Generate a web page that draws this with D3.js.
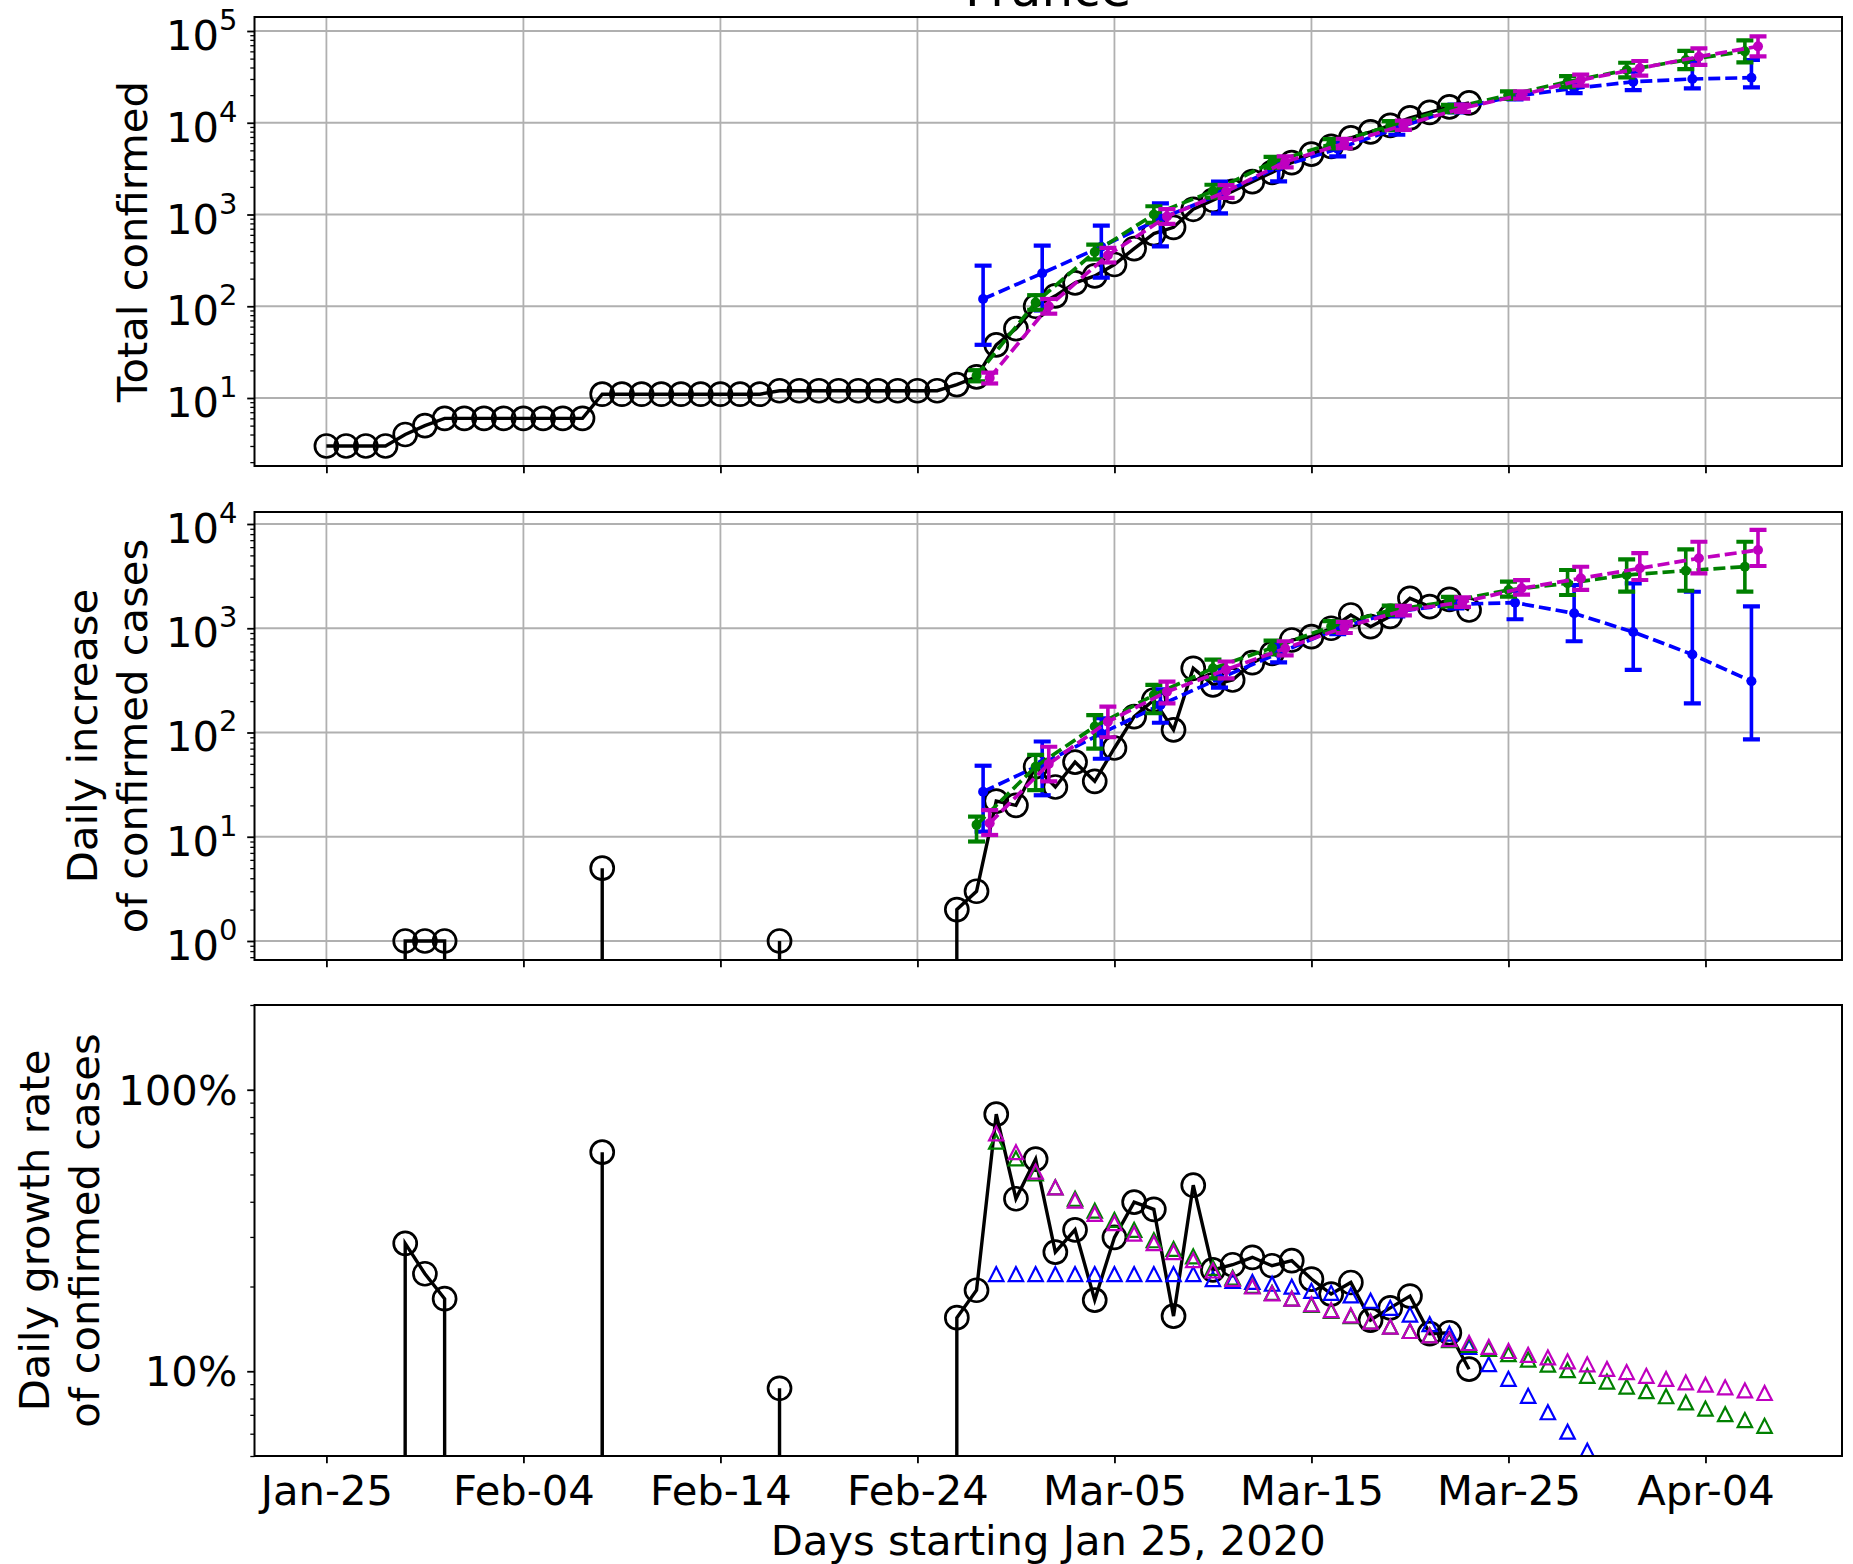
<!DOCTYPE html>
<html>
<head>
<meta charset="utf-8">
<script src="https://cdn.jsdelivr.net/npm/d3@7"></script>
<style>
  body { margin: 0; background: #fff; }
  text { font-family: "DejaVu Sans", sans-serif; fill: #000; }
</style>
</head>
<body>
<script>
// ---- data (day 0 = Jan 25, 2020) ----
const dayTicks = [0, 10, 20, 30, 40, 50, 60, 70];
const dayLabels = ["Jan-25", "Feb-04", "Feb-14", "Feb-24", "Mar-05", "Mar-15", "Mar-25", "Apr-04"];

// observed, one value per day from day 0
const obsTotal = [3, 3, 3, 3, 4, 5, 6, 6, 6, 6, 6, 6, 6, 6,
  11, 11, 11, 11, 11, 11, 11, 11, 11, 12, 12, 12, 12, 12, 12, 12, 12, 12,
  14, 17, 38, 57, 100, 130, 180, 214, 285, 425, 620, 725, 1140, 1430, 1790,
  2280, 2880, 3680, 4550, 5530, 6850, 7950, 9370, 11300, 12960, 14870, 16440];
const obsDaily = [null, 0, 0, 0, 1, 1, 1, 0, 0, 0, 0, 0, 0, 0,
  5, 0, 0, 0, 0, 0, 0, 0, 0, 1, 0, 0, 0, 0, 0, 0, 0, 0,
  2, 3, 22, 20, 47, 30, 52, 34, 71, 142, 205, 106, 413, 286, 319,
  467, 575, 771, 830, 1000, 1340, 1035, 1300, 1937, 1610, 1893, 1496];
const obsGrowth = [null, 0, 0, 0, 0.2845, 0.222, 0.181, 0, 0, 0, 0, 0, 0, 0,
  0.60, 0, 0, 0, 0, 0, 0, 0, 0, 0.087, 0, 0, 0, 0, 0, 0, 0, 0,
  0.155, 0.194, 0.819, 0.41, 0.567, 0.265, 0.318, 0.179, 0.299, 0.399, 0.376, 0.157, 0.458, 0.229, 0.239,
  0.254, 0.237, 0.247, 0.2126, 0.188, 0.2067, 0.152, 0.168, 0.185, 0.136, 0.137, 0.1017];

// model fits with error bars, every third day
const projDays = [33, 36, 39, 42, 45, 48, 51, 54, 57, 60, 63, 66, 69, 72];

const blueTot   = [120, 229, 446, 900, 1650, 3300, 5200, 8700, 14300, 19500, 23700, 28000, 30000, 31000];
const blueTotLo = [38, 90, 205, 450, 1030, 2300, 4300, 7400, 13000, 18000, 21000, 22700, 23700, 24300];
const blueTotHi = [277, 457, 755, 1320, 2280, 4200, 6400, 10200, 15800, 21500, 27500, 36000, 46000, 48300];
const greenTot   = [17.5, 110, 390, 1000, 1800, 3700, 5900, 9300, 14300, 20000, 28000, 37500, 48300, 60000];
const greenTotLo = [15.2, 91.5, 324, 813, 1530, 3220, 5260, 8290, 13040, 18240, 24390, 31190, 38370, 45510];
const greenTotHi = [20.1, 132, 469, 1230, 2110, 4250, 6620, 10430, 15680, 21930, 32150, 45080, 60810, 79100];
const magTot   = [16.5, 100, 360, 950, 1780, 3750, 5950, 9400, 14400, 20100, 29200, 39200, 52500, 68000];
const magTotLo = [14.4, 83, 300, 790, 1515, 3266, 5303, 8378, 13133, 18331, 25432, 32606, 42680, 52800];
const magTotHi = [18.9, 120, 433, 1142, 2091, 4306, 6676, 10547, 15790, 22040, 33527, 47128, 64590, 87600];

const blueDaily   = [27, 50, 98, 184, 330, 575, 1000, 1450, 1700, 1760, 1390, 920, 560, 310];
const blueDailyLo = [11.2, 25, 56, 124, 270, 470, 880, 1300, 1550, 1220, 750, 398, 190, 86];
const blueDailyHi = [48, 82, 137, 260, 420, 700, 1130, 1600, 1900, 2300, 2600, 2700, 2240, 1620];
const greenDaily   = [13, 47, 114, 229, 413, 650, 1040, 1490, 1800, 2330, 2700, 3245, 3565, 3895];
const greenDailyLo = [9.0, 28, 70, 153, 330, 560, 920, 1340, 1620, 2010, 2085, 2244, 2290, 2244];
const greenDailyHi = [15.6, 61, 147, 286, 500, 760, 1170, 1650, 2000, 2800, 3620, 4575, 5720, 6760];
const magDaily   = [13.5, 50, 127, 246, 400, 640, 1020, 1480, 1780, 2417, 3010, 3760, 4690, 5630];
const magDailyLo = [10.4, 34, 90, 190, 330, 550, 900, 1330, 1600, 2100, 2330, 2903, 3365, 3955];
const magDailyHi = [18, 73, 177, 307, 480, 750, 1150, 1640, 1980, 2900, 3890, 5250, 6760, 8770];

// model growth rates, daily from day 34
const rateStart = 34;
const blueRate = [0.2214, 0.2214, 0.2214, 0.2214, 0.2214, 0.2214, 0.2214, 0.2214, 0.2214, 0.2214, 0.2214,
  0.2126, 0.2096, 0.2076, 0.2046, 0.1997, 0.193, 0.19, 0.186, 0.178, 0.168,
  0.159, 0.147, 0.136, 0.122, 0.106, 0.094, 0.0818, 0.0715, 0.061, 0.0522];
const greenRate = [0.654, 0.57, 0.504, 0.45, 0.41, 0.372, 0.345, 0.318, 0.292, 0.272, 0.256,
  0.233, 0.215, 0.201, 0.19, 0.181, 0.172, 0.164, 0.157, 0.15, 0.144, 0.139, 0.134, 0.129, 0.124,
  0.12, 0.115, 0.11, 0.1055, 0.101, 0.0963, 0.0919, 0.0882, 0.085, 0.0815, 0.0775, 0.0737, 0.0704, 0.0671, 0.064];
const magRate = [0.70, 0.60, 0.512, 0.45, 0.404, 0.362, 0.336, 0.308, 0.285, 0.265, 0.248,
  0.228, 0.213, 0.2, 0.189, 0.181, 0.173, 0.165, 0.158, 0.15, 0.144, 0.139, 0.134, 0.13, 0.126,
  0.122, 0.118, 0.1144, 0.112, 0.1085, 0.1058, 0.1019, 0.0993, 0.0963, 0.0939, 0.0913, 0.0896, 0.0877, 0.0855, 0.0837];

// ---- layout ----
const W = 1853, H = 1564;
const frameL = 254.5, frameR = 1842;
const panelTops = [17, 512, 1005], panelBottoms = [466, 960, 1456];
const width = frameR - frameL;
const fs = 41.7;
const colors = {blue: "#0000ff", green: "#008000", mag: "#bf00bf"};

const svg = d3.select("body").append("svg")
    .attr("width", W)
    .attr("height", H);

svg.append("rect").attr("width", W).attr("height", H).attr("fill", "#fff");

const x = d3.scaleLinear().domain([-3.65, 76.93]).range([0, width]);

const y1 = d3.scaleLog().domain([Math.pow(10, 0.2589), Math.pow(10, 5.1526)]).range([panelBottoms[0] - panelTops[0], 0]);
const y2 = d3.scaleLog().domain([Math.pow(10, -0.1823), Math.pow(10, 4.1151)]).range([panelBottoms[1] - panelTops[1], 0]);
const y3 = d3.scaleLog().domain([0.05, 2.0]).range([panelBottoms[2] - panelTops[2], 0]);

function minorTicks(y) {
    const [lo, hi] = y.domain();
    const out = [];
    for (let e = -3; e <= 6; e++) {
        for (let m = 2; m <= 9; m++) {
            const v = m * Math.pow(10, e);
            if (v >= lo * 0.9999 && v <= hi * 1.0001) out.push(v);
        }
    }
    return out;
}

function makePanel(idx, y, major, opts) {
    const top = panelTops[idx], h = panelBottoms[idx] - top;
    const g = svg.append("g").attr("transform", "translate(" + frameL + "," + top + ")");

    svg.append("clipPath").attr("id", "clip" + idx)
        .append("rect").attr("width", width).attr("height", h);

    if (opts.grid) {
        const grid = g.append("g").attr("stroke", "#b0b0b0").attr("stroke-width", 1.8);
        grid.selectAll(".gx").data(dayTicks).join("line")
            .attr("x1", d => x(d)).attr("x2", d => x(d))
            .attr("y1", 0).attr("y2", h);
        grid.selectAll(".gy").data(major).join("line")
            .attr("x1", 0).attr("x2", width)
            .attr("y1", d => y(d)).attr("y2", d => y(d));
    }

    const data = g.append("g").attr("clip-path", "url(#clip" + idx + ")");

    // axes drawn later on top
    const axes = () => {
        const gx = g.append("g").attr("transform", "translate(0," + h + ")")
            .call(d3.axisBottom(x).tickValues(dayTicks).tickSizeInner(7.3).tickSizeOuter(0)
                .tickFormat(opts.xLabels ? (d, i) => dayLabels[i] : ""));
        gx.select(".domain").remove();
        gx.selectAll("line").attr("stroke", "#000").attr("stroke-width", 1.8);
        gx.selectAll("text").attr("y", 49).attr("dy", 0)
            .attr("font-size", fs).attr("font-family", "DejaVu Sans").attr("fill", "#000");

        const gy = g.append("g")
            .call(d3.axisLeft(y).tickValues(major).tickSizeInner(7.3).tickSizeOuter(0).tickFormat(""));
        gy.select(".domain").remove();
        gy.selectAll("line").attr("stroke", "#000").attr("stroke-width", 1.8);

        const gm = g.append("g")
            .call(d3.axisLeft(y).tickValues(minorTicks(y)).tickSizeInner(4.2).tickSizeOuter(0).tickFormat(""));
        gm.select(".domain").remove();
        gm.selectAll("line").attr("stroke", "#000").attr("stroke-width", 1.3);

        // tick labels
        const lab = g.append("g").selectAll("text").data(major).join("text")
            .attr("text-anchor", "end")
            .attr("font-size", fs);
        if (opts.percent) {
            lab.attr("x", -17).attr("y", d => y(d) + 15)
                .text(d => Math.round(d * 100) + "%");
        } else {
            lab.attr("x", -17).attr("y", d => y(d) + 19)
                .each(function (d) {
                    const t = d3.select(this);
                    t.append("tspan").text("10");
                    t.append("tspan").attr("dy", -20).attr("font-size", 29)
                        .text(Math.round(Math.log10(d)));
                });
        }

        g.append("rect").attr("width", width).attr("height", h)
            .attr("fill", "none").attr("stroke", "#000").attr("stroke-width", 2);
    };

    return {g: g, data: data, h: h, axes: axes};
}

// observed series: line + open circles, zero values drop off the bottom
function drawObserved(p, y, values) {
    const pts = values.map((v, i) => ({day: i, v: v}));
    const line = d3.line()
        .defined(d => d.v != null)
        .x(d => x(d.day))
        .y(d => d.v > 0 ? y(d.v) : p.h + 1e5);
    p.data.append("path").datum(pts)
        .attr("d", line)
        .attr("fill", "none").attr("stroke", "#000").attr("stroke-width", 3.4)
        .attr("stroke-linejoin", "miter");
    p.data.append("g").selectAll("circle").data(pts.filter(d => d.v > 0)).join("circle")
        .attr("cx", d => x(d.day)).attr("cy", d => y(d.v)).attr("r", 11.5)
        .attr("fill", "none").attr("stroke", "#000").attr("stroke-width", 2.7);
}

function drawProjection(p, y, vals, lo, hi, color, off) {
    const pts = projDays.map((d, i) => ({x: x(d + off), v: vals[i], lo: lo[i], hi: hi[i]}));
    const s = p.data.append("g");
    s.append("path").datum(pts)
        .attr("d", d3.line().x(d => d.x).y(d => y(d.v)))
        .attr("fill", "none").attr("stroke", color).attr("stroke-width", 3.7)
        .attr("stroke-dasharray", "12,5");
    s.selectAll(".eb").data(pts).join("line")
        .attr("x1", d => d.x).attr("x2", d => d.x)
        .attr("y1", d => y(d.lo)).attr("y2", d => y(d.hi))
        .attr("stroke", color).attr("stroke-width", 3.6);
    ["lo", "hi"].forEach(k => {
        s.selectAll(".cap" + k).data(pts).join("line")
            .attr("x1", d => d.x - 8.5).attr("x2", d => d.x + 8.5)
            .attr("y1", d => y(d[k])).attr("y2", d => y(d[k]))
            .attr("stroke", color).attr("stroke-width", 4.2);
    });
    s.selectAll("circle").data(pts).join("circle")
        .attr("cx", d => d.x).attr("cy", d => y(d.v)).attr("r", 5)
        .attr("fill", color);
}

function drawRate(p, y, vals, color) {
    p.data.append("g").selectAll("path").data(vals).join("path")
        .attr("transform", (d, i) => "translate(" + x(rateStart + i) + "," + y(d) + ")")
        .attr("d", "M0,-7L-7.2,7L7.2,7Z")
        .attr("fill", "none").attr("stroke", color).attr("stroke-width", 2.2);
}

// ---- panel 1: total confirmed ----
const p1 = makePanel(0, y1, [10, 100, 1000, 10000, 100000], {grid: true, xLabels: false});
drawObserved(p1, y1, obsTotal);
drawProjection(p1, y1, blueTot, blueTotLo, blueTotHi, colors.blue, 1 / 3);
drawProjection(p1, y1, greenTot, greenTotLo, greenTotHi, colors.green, 0);
drawProjection(p1, y1, magTot, magTotLo, magTotHi, colors.mag, 2 / 3);
p1.axes();

// ---- panel 2: daily increase ----
const p2 = makePanel(1, y2, [1, 10, 100, 1000, 10000], {grid: true, xLabels: false});
drawObserved(p2, y2, obsDaily);
drawProjection(p2, y2, blueDaily, blueDailyLo, blueDailyHi, colors.blue, 1 / 3);
drawProjection(p2, y2, greenDaily, greenDailyLo, greenDailyHi, colors.green, 0);
drawProjection(p2, y2, magDaily, magDailyLo, magDailyHi, colors.mag, 2 / 3);
p2.axes();

// ---- panel 3: daily growth rate ----
const p3 = makePanel(2, y3, [0.1, 1], {grid: false, xLabels: true, percent: true});
drawObserved(p3, y3, obsGrowth);
drawRate(p3, y3, blueRate, colors.blue);
drawRate(p3, y3, greenRate, colors.green);
drawRate(p3, y3, magRate, colors.mag);
p3.axes();

// ---- labels ----
function yLabel(lines, baselines, cy) {
    lines.forEach((t, i) => {
        svg.append("text")
            .attr("transform", "translate(" + baselines[i] + "," + cy + ") rotate(-90)")
            .attr("text-anchor", "middle")
            .attr("font-size", fs)
            .text(t);
    });
}
yLabel(["Total confirmed"], [147], (panelTops[0] + panelBottoms[0]) / 2);
yLabel(["Daily increase", "of confirmed cases"], [97, 147], (panelTops[1] + panelBottoms[1]) / 2);
yLabel(["Daily growth rate", "of confirmed cases"], [49, 99], (panelTops[2] + panelBottoms[2]) / 2);

svg.append("text")
    .attr("x", frameL + width / 2).attr("y", 1555)
    .attr("text-anchor", "middle").attr("font-size", fs)
    .text("Days starting Jan 25, 2020");

// title sits mostly above the top edge, as in the original figure
svg.append("text")
    .attr("x", frameL + width / 2).attr("y", 6)
    .attr("text-anchor", "middle").attr("font-size", 50)
    .text("France");
</script>
</body>
</html>
